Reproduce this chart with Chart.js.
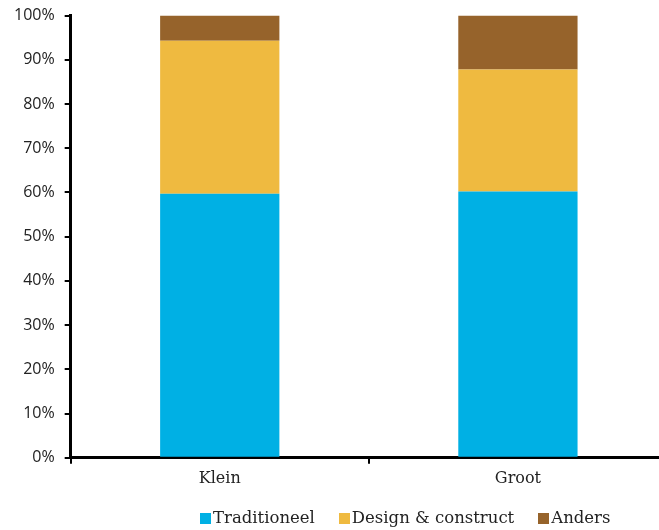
<!DOCTYPE html>
<html>
<head>
<meta charset="utf-8">
<script src="https://cdn.jsdelivr.net/npm/chart.js@4"></script>
<style>
  html, body { margin: 0; padding: 0; background: #fff; overflow: hidden; }
  #wrap { position: relative; width: 667px; height: 530px; }
  #plot { position: absolute; left: 0; top: -4px; width: 667px; height: 534px; }
  #legend {
    position: absolute; left: 200px; top: 508px;
    display: flex; align-items: center;
    font-family: 'DejaVu Serif', serif; font-size: 16.5px; color: #222;
    white-space: nowrap;
  }
  #legend .item { display: flex; align-items: center; margin-right: 24px; }
  #legend .box { width: 11px; height: 11px; margin-right: 2px; margin-top: 2px; }
</style>
</head>
<body>
<div id="wrap">
  <div id="plot"><canvas id="chart"></canvas></div>
  <div id="legend"></div>
</div>
<script>
const categories = ['Klein', 'Groot'];
const traditioneel = [59.7, 60.2];
const designConstruct = [34.6, 27.6];
const anders = [5.7, 12.2];
const yTicks = [0, 10, 20, 30, 40, 50, 60, 70, 80, 90, 100];

Chart.defaults.font.family = 'Open Sans';
const serif = 'DejaVu Serif';

const chart = new Chart(document.getElementById('chart'), {
    type: 'bar',
    data: {
        labels: categories,
        datasets: [
            { label: 'Traditioneel', data: traditioneel, backgroundColor: '#00b0e4' },
            { label: 'Design & construct', data: designConstruct, backgroundColor: '#efba40' },
            { label: 'Anders', data: anders, backgroundColor: '#96632b' }
        ]
    },
    options: {
        responsive: true,
        maintainAspectRatio: false,
        animation: false,
        layout: { padding: { top: 1, left: 4, right: 0, bottom: 37 } },
        datasets: { bar: { barPercentage: 1, categoryPercentage: 0.4 } },
        plugins: {
            tooltip: { enabled: false },
            legend: { display: false }
        },
        scales: {
            x: {
                stacked: true,
                border: { color: '#000', width: 3 },
                grid: { drawOnChartArea: false, drawTicks: true, tickLength: 6, color: '#000', lineWidth: 2, offset: true },
                ticks: { color: '#222', padding: 5, font: { family: serif, size: 16 } }
            },
            y: {
                stacked: true,
                min: 0,
                max: 100,
                afterBuildTicks(axis) { axis.ticks = yTicks.map(v => ({ value: v })); },
                border: { color: '#000', width: 3 },
                grid: { drawOnChartArea: false, drawTicks: true, tickLength: 6, color: '#000', lineWidth: 2 },
                ticks: {
                    color: '#222',
                    padding: 10,
                    font: { size: 16 },
                    callback: v => v + '%'
                }
            }
        }
    }
});

// legend built from the datasets
const legendEl = document.getElementById('legend');
chart.data.datasets.forEach(ds => {
    const item = document.createElement('span');
    item.className = 'item';
    const box = document.createElement('span');
    box.className = 'box';
    box.style.background = ds.backgroundColor;
    item.appendChild(box);
    item.appendChild(document.createTextNode(ds.label));
    legendEl.appendChild(item);
});
</script>
</body>
</html>
